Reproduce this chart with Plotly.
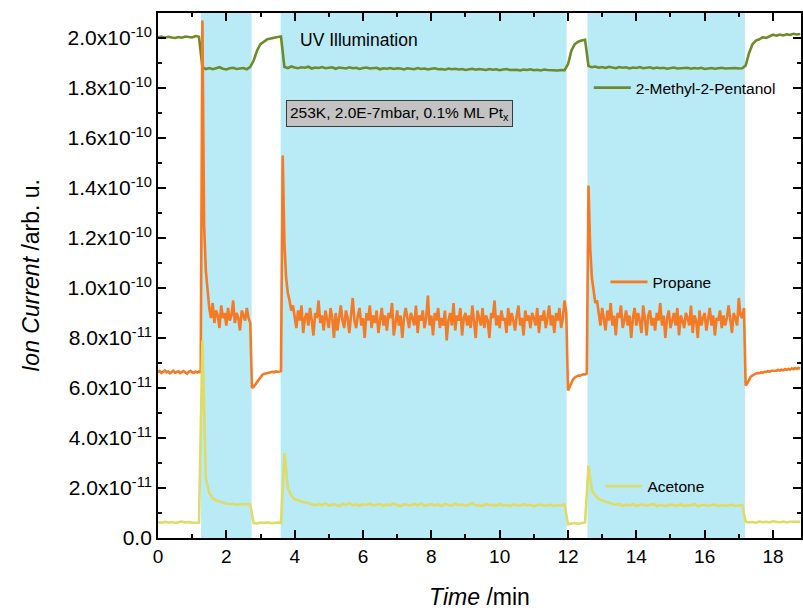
import plotly.graph_objects as go

# ---------------- data (ion currents in units of 1e-12 arb. u.) ----------------
t_fine_step = 0.05   # propane sampled finer
t_coarse_step = 0.1

propane = [
    # 0.00-1.25
    66.2,66.8,66.0,66.5,67.0,66.3,66.6,65.9,66.4,66.9,66.1,66.5,66.7,66.0,66.4,66.8,66.2,65.8,66.5,66.9,66.3,66.1,66.6,66.2,66.5,66.3,
    # 1.30-1.50
    207,125,107,99,92,
    # 1.55-2.70
    88,94,86,91,89,84,93,88,90,85,92,87,89,95,86,90,88,83,91,89,87,92,88,86,
    # 2.75-3.60
    60,60.5,61.5,62.5,63.5,64.5,65.2,65.6,65.8,66.0,66.2,66.1,66.5,66.3,66.6,66.4,66.7,66.8,
    # 3.65-3.95
    153,118,104,98,95,91,93,
    # 4.00-11.85
    89,84,91,87,93,82,88,90,85,92,
    87,81,90,88,95,86,89,83,91,87,
    84,92,88,80,90,83,89,93,87,84,
    91,88,82,90,96,87,84,89,92,85,
    88,80,90,87,93,84,89,86,91,82,
    87,92,85,89,83,90,88,94,81,87,
    91,85,89,80,88,92,87,84,90,88,
    85,93,82,89,87,91,84,88,97,85,
    89,81,90,87,92,84,88,85,91,79,
    87,90,85,94,83,89,87,92,81,88,
    90,85,89,84,93,87,80,91,88,85,
    92,84,89,87,80,90,88,95,85,89,
    84,91,87,88,82,92,85,90,87,83,
    89,93,85,88,81,91,87,89,84,90,
    88,85,92,82,89,87,91,84,88,93,
    85,89,82,90,87,92,84,88,
    # 11.90-11.95
    95,90,
    # 12.00-12.55
    59,60.5,62.5,63.5,64.2,64.6,65.0,64.9,65.3,65.5,65.4,65.8,
    # 12.60-12.85
    141,116,104,98,94,95,
    # 12.90-17.10
    90,85,92,88,83,91,87,94,85,89,
    81,90,88,93,84,87,91,85,89,80,
    88,92,85,90,87,82,93,88,81,89,
    91,85,88,83,90,87,94,85,89,80,
    88,91,84,87,90,85,92,81,89,87,
    84,90,88,85,93,82,89,87,80,91,
    85,88,90,83,87,92,85,89,81,88,
    87,91,84,89,85,88,93,87,82,90,
    88,85,96,89,88,
    # 17.15
    92,
    # 17.20-18.80
    61,62,63.5,64.5,65,65.5,65.8,66.0,65.9,66.3,66.1,66.5,66.4,66.7,66.5,66.9,66.8,
    67.0,66.9,67.2,67.0,67.3,67.1,67.5,67.3,67.6,67.4,67.8,67.6,67.9,67.7,68.0,67.8,
]

methylpentanol = [
    # 0.0-1.2
    200.3,200.6,200.1,200.5,200.2,200.0,200.4,200.1,200.6,200.3,200.2,200.8,200.5,
    # 1.3-2.6
    188.2,187.6,188.0,187.5,187.9,188.3,187.7,187.4,187.9,188.1,187.6,187.8,188.0,187.5,
    # 2.7-3.6
    188.5,191,195,197.5,198.5,199.5,199.8,200.2,200.4,200.6,
    # 3.7-11.9
    188.4,188.0,188.6,188.2,187.9,188.3,188.1,188.5,187.8,188.2,
    188.0,188.4,187.9,188.1,188.3,187.7,188.2,188.0,187.8,188.3,
    187.9,188.1,187.6,188.0,188.2,187.8,187.9,188.1,187.5,187.9,
    187.7,188.0,187.6,187.9,187.8,187.4,187.9,187.7,187.5,188.0,
    187.6,187.8,187.4,187.7,187.9,187.5,187.6,187.3,187.8,187.5,
    187.7,187.4,187.6,187.2,187.5,187.7,187.3,187.6,187.4,187.2,
    187.6,187.3,187.5,187.1,187.4,187.6,187.2,187.4,187.3,187.0,
    187.4,187.2,187.5,187.1,187.3,187.0,187.4,187.2,187.1,187.3,
    187.0,187.2,187.1,
    # 12.0-12.5
    189.5,195,197.5,198.5,199,199.3,
    # 12.6-17.1
    188.8,188.3,188.6,188.1,188.4,188.0,188.5,188.2,187.9,188.4,
    188.1,188.3,187.8,188.2,188.0,188.4,187.9,188.1,188.3,187.8,
    188.2,187.9,188.1,187.7,188.0,188.2,187.8,188.0,187.9,188.1,
    187.7,188.0,187.8,188.1,187.6,187.9,188.0,187.7,187.9,188.1,
    187.8,187.9,187.7,188.0,187.8,187.9,
    # 17.2-18.8
    189,194,197.5,199,199.5,200.3,200.0,200.6,201.3,200.9,201.4,201.0,201.5,201.2,201.7,201.4,201.6,
]

acetone = [
    # 0.0-1.2
    6.3,6.1,6.5,6.2,6.4,6.0,6.3,6.6,6.2,6.4,6.1,6.3,6.2,
    # 1.3-2.7
    79,24,18,16,15,14.5,14,13.8,13.5,13.7,13.3,13.6,13.4,13.7,13.3,
    # 2.8-3.6
    6.0,5.8,6.2,6.0,6.3,5.9,6.1,6.2,6.0,
    # 3.7-4.4
    34,20,17,15.5,15,14.5,14.2,14,
    # 4.5-11.9
    13.5,13.1,13.6,13.2,13.8,13.0,13.4,13.3,12.8,13.6,
    13.2,13.9,13.1,13.4,12.9,13.5,13.2,13.7,13.0,13.3,
    13.6,12.9,13.4,13.1,13.8,13.2,12.8,13.5,13.3,13.0,
    13.6,13.1,13.9,12.9,13.3,13.5,13.0,13.4,12.8,13.6,
    13.2,13.0,13.7,13.1,13.4,12.9,13.3,14.1,13.0,13.2,
    12.8,13.5,13.1,13.3,12.9,13.6,13.0,13.2,12.8,13.4,
    13.1,12.9,13.5,13.0,13.3,12.7,13.2,13.4,12.9,13.1,
    13.3,12.8,13.2,13.0,13.4,
    # 12.0-12.5
    5.5,5.8,6.0,5.7,6.1,6.2,
    # 12.6-13.3
    29,19,17,15.5,15,14.5,14,13.8,
    # 13.4-17.1
    13.2,13.6,12.9,13.3,13.0,13.5,12.8,13.2,13.4,12.9,
    13.1,13.6,12.7,13.3,13.0,12.8,13.4,13.1,12.9,13.5,
    12.8,13.2,13.0,13.6,12.7,13.1,13.3,12.9,13.0,13.4,
    12.8,13.2,12.9,13.1,13.3,12.8,13.0,13.2,
    # 17.2-18.8
    6.5,6.2,6.4,6.1,6.6,6.3,6.5,6.2,6.7,6.4,6.3,6.6,6.2,6.5,6.4,6.3,6.5,
]

t_fine = [round(i * t_fine_step, 2) for i in range(len(propane))]
t_coarse = [round(i * t_coarse_step, 2) for i in range(len(methylpentanol))]

uv_intervals = [(1.26, 2.74), (3.59, 11.96), (12.57, 17.18)]

x_ticks = [0, 2, 4, 6, 8, 10, 12, 14, 16, 18]
y_ticks = [0, 2e-11, 4e-11, 6e-11, 8e-11, 1e-10, 1.2e-10, 1.4e-10, 1.6e-10, 1.8e-10, 2e-10]
y_ticktext = ["0.0", "2.0x10<sup>-11</sup>", "4.0x10<sup>-11</sup>", "6.0x10<sup>-11</sup>",
              "8.0x10<sup>-11</sup>", "1.0x10<sup>-10</sup>", "1.2x10<sup>-10</sup>",
              "1.4x10<sup>-10</sup>", "1.6x10<sup>-10</sup>", "1.8x10<sup>-10</sup>",
              "2.0x10<sup>-10</sup>"]

SCALE = 1e-12
GREEN = "#6E8B2A"
ORANGE = "#F47A25"
YELLOW = "#DEDB68"
UV_BLUE = "#B9EBF6"
FONT = "Liberation Sans, Arial, sans-serif"

fig = go.Figure()
fig.add_trace(go.Scatter(x=t_coarse, y=[v * SCALE for v in methylpentanol], mode="lines",
                         line=dict(color=GREEN, width=2.6), name="2-Methyl-2-Pentanol",
                         legend="legend", showlegend=True))
fig.add_trace(go.Scatter(x=t_fine, y=[v * SCALE for v in propane], mode="lines",
                         line=dict(color=ORANGE, width=2.6), name="Propane", legend="legend2",
                         showlegend=True))
fig.add_trace(go.Scatter(x=t_coarse, y=[v * SCALE for v in acetone], mode="lines",
                         line=dict(color=YELLOW, width=2.6), name="Acetone", legend="legend3",
                         showlegend=True))

for a, b in uv_intervals:
    fig.add_vrect(x0=a, x1=b, fillcolor=UV_BLUE, opacity=1, line_width=0, layer="below")

legend_common = dict(bgcolor="rgba(0,0,0,0)", borderwidth=0, font=dict(family=FONT, size=15.5, color="black"),
                     xanchor="left", yanchor="middle", itemwidth=37, tracegroupgap=0, visible=True)
fig.update_layout(
    width=803, height=611,
    margin=dict(l=158, r=0, t=13, b=73),
    paper_bgcolor="white", plot_bgcolor="white",
    font=dict(family=FONT, color="black"),
    showlegend=True,
    legend=dict(x=0.670, y=0.857, **legend_common),
    legend2=dict(x=0.696, y=0.487, **legend_common),
    legend3=dict(x=0.688, y=0.098, **legend_common),
)

fig.update_xaxes(
    range=[0, 18.82], tickmode="array", tickvals=x_ticks,
    ticks="inside", ticklen=8, tickwidth=1.5, tickcolor="black",
    showline=True, linecolor="black", linewidth=1.8, mirror="allticks",
    showgrid=False, zeroline=False,
    minor=dict(tickmode="linear", tick0=0, dtick=1, ticks="inside", ticklen=4, tickwidth=1.5, tickcolor="black", showgrid=False),
    tickfont=dict(family=FONT, size=19),
    title=dict(text="<i>Time</i> /min", font=dict(family=FONT, size=23), standoff=23),
)
fig.update_yaxes(
    range=[0, 2.1e-10], tickmode="array", tickvals=y_ticks, ticktext=y_ticktext,
    ticks="inside", ticklen=8, tickwidth=1.5, tickcolor="black",
    showline=True, linecolor="black", linewidth=1.8, mirror="allticks",
    showgrid=False, zeroline=False,
    minor=dict(tickmode="linear", tick0=0, dtick=1e-11, ticks="inside", ticklen=4, tickwidth=1.5, tickcolor="black", showgrid=False),
    tickfont=dict(family=FONT, size=21),
    title=dict(text="<i>Ion Current</i> /arb. u.", font=dict(family=FONT, size=23), standoff=22),
)

fig.add_annotation(text="UV Illumination", xref="paper", yref="paper", x=0.313, y=0.949,
                   showarrow=False, font=dict(family=FONT, size=17.5, color="black"),
                   xanchor="center", yanchor="middle")
fig.add_annotation(text="253K, 2.0E-7mbar, 0.1% ML Pt<sub>x</sub>", xref="paper", yref="paper",
                   x=0.375, y=0.808, showarrow=False,
                   font=dict(family=FONT, size=15.5, color="black"),
                   bgcolor="#C3C3C3", bordercolor="#3a3a3a", borderwidth=1, borderpad=3,
                   xanchor="center", yanchor="middle")

fig.write_html("out.html")
